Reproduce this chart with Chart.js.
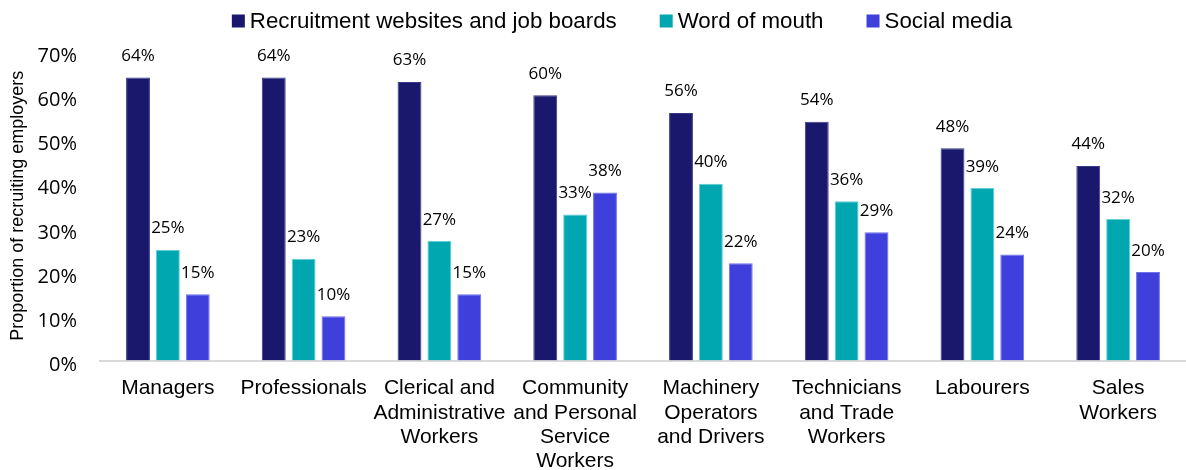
<!DOCTYPE html>
<html>
<head>
<meta charset="utf-8">
<script src="https://cdn.jsdelivr.net/npm/chart.js@4"></script>
<style>
  html, body { margin: 0; padding: 0; background: #fff; }
  #wrap { width: 1186px; height: 470px; }
</style>
</head>
<body>
<div id="wrap"><canvas id="chart"></canvas></div>
<script>
const categories = [
  'Managers',
  'Professionals',
  ['Clerical and', 'Administrative', 'Workers'],
  ['Community', 'and Personal', 'Service', 'Workers'],
  ['Machinery', 'Operators', 'and Drivers'],
  ['Technicians', 'and Trade', 'Workers'],
  'Labourers',
  ['Sales', 'Workers']
];
const seriesNames = ['Recruitment websites and job boards', 'Word of mouth', 'Social media'];
const jobBoards = [64, 64, 63, 60, 56, 54, 48, 44];
const wordOfMouth = [25, 23, 27, 33, 40, 36, 39, 32];
const socialMedia = [15, 10, 15, 38, 22, 29, 24, 20];
const yTicks = [0, 10, 20, 30, 40, 50, 60, 70];
const colors = ['#19186c', '#00a6b0', '#3f3fdb'];
const edges = ['#3b3a8a', '#5fd0d6', '#7070ea'];

// values printed above each bar
const barLabels = {
  id: 'barLabels',
  afterDatasetsDraw(chart) {
    const ctx = chart.ctx;
    ctx.save();
    ctx.font = '17px "Open Sans"';
    ctx.fillStyle = '#000';
    ctx.textAlign = 'center';
    ctx.textBaseline = 'alphabetic';
    chart.data.datasets.forEach((ds, i) => {
      chart.getDatasetMeta(i).data.forEach((bar, j) => {
        ctx.fillText(ds.data[j] + '%', bar.x, bar.y - 16.5);
      });
    });
    ctx.restore();
  }
};

// compact legend row: small square, short gap, label
const legendRow = {
  id: 'legendRow',
  afterDraw(chart) {
    const ctx = chart.ctx;
    const box = 13, gap = 5, spacing = 43, centerX = 622, midY = 21;
    ctx.save();
    ctx.font = '22.3px "Liberation Sans"';
    ctx.textBaseline = 'middle';
    ctx.textAlign = 'left';
    const widths = seriesNames.map(n => ctx.measureText(n).width);
    const total = widths.reduce((s, w) => s + box + gap + w, 0) + spacing * (seriesNames.length - 1);
    let x = centerX - total / 2;
    seriesNames.forEach((name, i) => {
      ctx.fillStyle = colors[i];
      ctx.fillRect(x, midY - box / 2, box, box);
      x += box + gap;
      ctx.fillStyle = '#000';
      ctx.fillText(name, x, midY + 1);
      x += widths[i] + spacing;
    });
    ctx.restore();
  }
};

new Chart(document.getElementById('chart'), {
  type: 'bar',
  data: {
    labels: categories,
    datasets: [jobBoards, wordOfMouth, socialMedia].map((d, i) => ({
      label: seriesNames[i],
      data: d,
      backgroundColor: colors[i],
      borderColor: edges[i],
      borderWidth: 1,
      barPercentage: 0.8,
      categoryPercentage: 0.66
    }))
  },
  options: {
    responsive: true,
    maintainAspectRatio: false,
    animation: false,
    layout: { padding: { left: 0, right: -5, top: 51, bottom: 0 } },
    plugins: {
      legend: { display: false },
      tooltip: { enabled: false }
    },
    scales: {
      x: {
        afterFit: (axis) => { axis.height = 109.5; },
        grid: { display: false, drawTicks: false },
        border: { display: true, color: '#d9d9d9', width: 2 },
        ticks: {
          font: { family: 'Liberation Sans', size: 21, lineHeight: 1.15 },
          color: '#000',
          padding: 16,
          maxRotation: 0,
          autoSkip: false
        }
      },
      y: {
        min: 0,
        max: 70,
        afterBuildTicks: (axis) => { axis.ticks = yTicks.map(v => ({ value: v })); },
        afterFit: (axis) => { axis.width = 100; },
        grid: { display: false, drawTicks: false },
        border: { display: false },
        ticks: {
          font: { family: 'Open Sans', size: 20 },
          color: '#000',
          padding: 23,
          labelOffset: 5,
          callback: v => v + '%'
        },
        title: {
          display: true,
          text: 'Proportion of recruiting employers',
          font: { family: 'Liberation Sans', size: 18 },
          color: '#000',
          padding: { top: 7, bottom: 0 }
        }
      }
    }
  },
  plugins: [barLabels, legendRow]
});
</script>
</body>
</html>
